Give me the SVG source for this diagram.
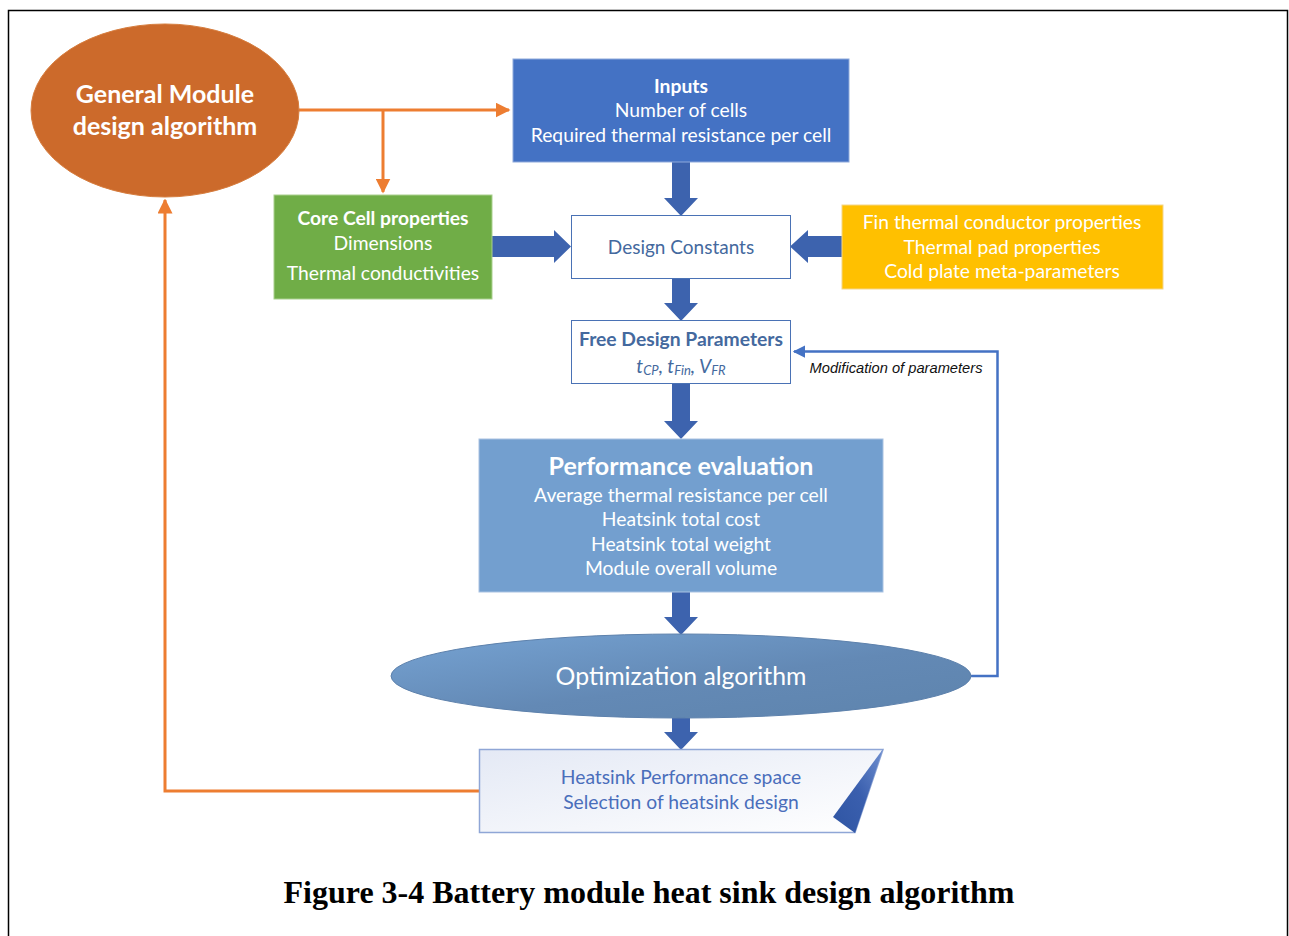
<svg xmlns="http://www.w3.org/2000/svg" width="1289" height="936" viewBox="0 0 1289 936">
  <defs>
    <style>
      .t { font-family: Lato, "Open Sans", "Liberation Sans", sans-serif; text-anchor: middle; font-size: 19.3px; }
      .w { fill: #ffffff; }
      .b { font-weight: bold; }
      .big { font-size: 25px; }
      .blk { fill: #3D63AE; }
      .orange { stroke: #ED7D31; stroke-width: 3; fill: none; }
    </style>
    <marker id="arrO" viewBox="0 0 10 10" refX="9" refY="5" markerWidth="5" markerHeight="5" orient="auto" markerUnits="strokeWidth">
      <path d="M0,0 L10,5 L0,10 Z" fill="#ED7D31"/>
    </marker>
    <marker id="arrB" viewBox="0 0 10 10" refX="9" refY="5" markerWidth="5" markerHeight="5" orient="auto" markerUnits="strokeWidth">
      <path d="M0,0 L10,5 L0,10 Z" fill="#4472C4"/>
    </marker>
    <linearGradient id="optGrad" x1="0" y1="0" x2="1" y2="1">
      <stop offset="0" stop-color="#76A3D3"/>
      <stop offset="0.55" stop-color="#6389B5"/>
      <stop offset="1" stop-color="#5E84AD"/>
    </linearGradient>
    <linearGradient id="selGrad" x1="0" y1="0" x2="1" y2="1">
      <stop offset="0" stop-color="#E4E9F5"/>
      <stop offset="1" stop-color="#FFFFFF"/>
    </linearGradient>
    <linearGradient id="foldGrad" x1="1" y1="0" x2="0" y2="1">
      <stop offset="0" stop-color="#6F8FD0"/>
      <stop offset="0.5" stop-color="#3A5FAE"/>
      <stop offset="1" stop-color="#2F55A3"/>
    </linearGradient>
  </defs>

  <!-- frame -->
  <rect x="0" y="0" width="1289" height="936" fill="#ffffff"/>
  <path d="M8.5,940 L8.5,10.5 L1287.5,10.5 L1287.5,940" fill="none" stroke="#000" stroke-width="1.5"/>

  <!-- connectors -->
  <g id="connectors">
    <path class="orange" d="M299,110 H509" marker-end="url(#arrO)"/>
    <path class="orange" d="M383,110 V192" marker-end="url(#arrO)"/>
    <path class="orange" d="M479,791 H165 V200" marker-end="url(#arrO)"/>
    <path d="M971,676 H997.5 V351.5 H794" fill="none" stroke="#4472C4" stroke-width="2.5" marker-end="url(#arrB)"/>
    <text x="896" y="373" font-family="'Liberation Sans', Arial, sans-serif" font-style="italic" font-size="15" text-anchor="middle" textLength="173" lengthAdjust="spacingAndGlyphs" fill="#111">Modification of parameters</text>
    <!-- block arrows -->
    <path class="blk" d="M672,162 H690 V198 H698 L681,216 L664,198 H672 Z"/>
    <path class="blk" d="M492,236 H554 V230 L571,246.5 L554,263 V257 H492 Z"/>
    <path class="blk" d="M842,236 H808 V230 L790,246.5 L808,263 V257 H842 Z"/>
    <path class="blk" d="M672,278 H690 V303 H698 L681,321 L664,303 H672 Z"/>
    <path class="blk" d="M672,383 H690 V421 H698 L681,439 L664,421 H672 Z"/>
    <path class="blk" d="M672,592 H690 V617 H698 L681,635 L664,617 H672 Z"/>
    <path class="blk" d="M672,718 H690 V732 H698 L681,750 L664,732 H672 Z"/>
  </g>

  <!-- General module ellipse -->
  <g id="general-module">
    <ellipse cx="165" cy="110.5" rx="134" ry="86.5" fill="#CC6A2B" stroke="#D67D3E" stroke-width="1"/>
    <text class="t w b big" x="165" y="103">General Module</text>
    <text class="t w b big" x="165" y="135">design algorithm</text>
  </g>

  <!-- Inputs -->
  <g id="inputs">
    <rect x="513" y="59" width="336" height="103" fill="#4472C4" stroke="#8EA9DB" stroke-width="1"/>
    <text class="t w b" x="681" y="93">Inputs</text>
    <text class="t w" x="681" y="117">Number of cells</text>
    <text class="t w" x="681" y="142">Required thermal resistance per cell</text>
  </g>

  <!-- Core cell -->
  <g id="core-cell">
    <rect x="274" y="195" width="218" height="104" fill="#70AD47" stroke="#A9D08E" stroke-width="1"/>
    <text class="t w b" x="383" y="225">Core Cell properties</text>
    <text class="t w" x="383" y="250">Dimensions</text>
    <text class="t w" x="383" y="280">Thermal conductivities</text>
  </g>

  <!-- Design constants -->
  <g id="design-constants">
    <rect x="571.5" y="215.5" width="219" height="63" fill="#ffffff" stroke="#4A72B5" stroke-width="1"/>
    <text class="t" x="681" y="254" fill="#44699E" style="font-size:19px">Design Constants</text>
  </g>

  <!-- Fin / pad / cold plate -->
  <g id="material-props">
    <rect x="842" y="205" width="321" height="84" fill="#FFC000" stroke="#F4D58A" stroke-width="1"/>
    <text class="t w" x="1002" y="229">Fin thermal conductor properties</text>
    <text class="t w" x="1002" y="254">Thermal pad properties</text>
    <text class="t w" x="1002" y="278">Cold plate meta-parameters</text>
  </g>

  <!-- Free design parameters -->
  <g id="free-params">
    <rect x="571.5" y="320.5" width="219" height="63" fill="#ffffff" stroke="#4A72B5" stroke-width="1"/>
    <text class="t b" x="681" y="346" fill="#44699E">Free Design Parameters</text>
    <text class="t" x="681" y="373" font-style="italic" fill="#44699E">t<tspan font-size="13" dy="2">CP</tspan><tspan dy="-2">, t</tspan><tspan font-size="13" dy="2">Fin</tspan><tspan dy="-2">, V</tspan><tspan font-size="13" dy="2">FR</tspan></text>
  </g>

  <!-- Performance evaluation -->
  <g id="performance">
    <rect x="479" y="439" width="404" height="153" fill="#739FCF" stroke="#A9C2E2" stroke-width="1"/>
    <text class="t w b big" x="681" y="475">Performance evaluation</text>
    <text class="t w" x="681" y="502">Average thermal resistance per cell</text>
    <text class="t w" x="681" y="526">Heatsink total cost</text>
    <text class="t w" x="681" y="551">Heatsink total weight</text>
    <text class="t w" x="681" y="575">Module overall volume</text>
  </g>

  <!-- Optimization algorithm -->
  <g id="optimization">
    <ellipse cx="681" cy="676" rx="290" ry="42" fill="url(#optGrad)" stroke="#5D81AC" stroke-width="1"/>
    <text class="t w" x="681" y="685" style="font-size:24.8px">Optimization algorithm</text>
  </g>

  <!-- Selection -->
  <g id="selection">
    <path d="M479.5,749.5 H883 L855,832.5 H479.5 Z" fill="url(#selGrad)" stroke="#8FA6D6" stroke-width="1.5"/>
    <path d="M883,749 L855,833 L833,817 Z" fill="url(#foldGrad)"/>
    <text class="t" x="681" y="784" fill="#4A6EBB">Heatsink Performance space</text>
    <text class="t" x="681" y="809" fill="#4A6EBB">Selection of heatsink design</text>
  </g>

  <!-- caption -->
  <text x="649" y="903" font-family="'Liberation Serif', 'Times New Roman', serif" font-weight="bold" font-size="32" text-anchor="middle" fill="#000">Figure 3-4 Battery module heat sink design algorithm</text>
</svg>
